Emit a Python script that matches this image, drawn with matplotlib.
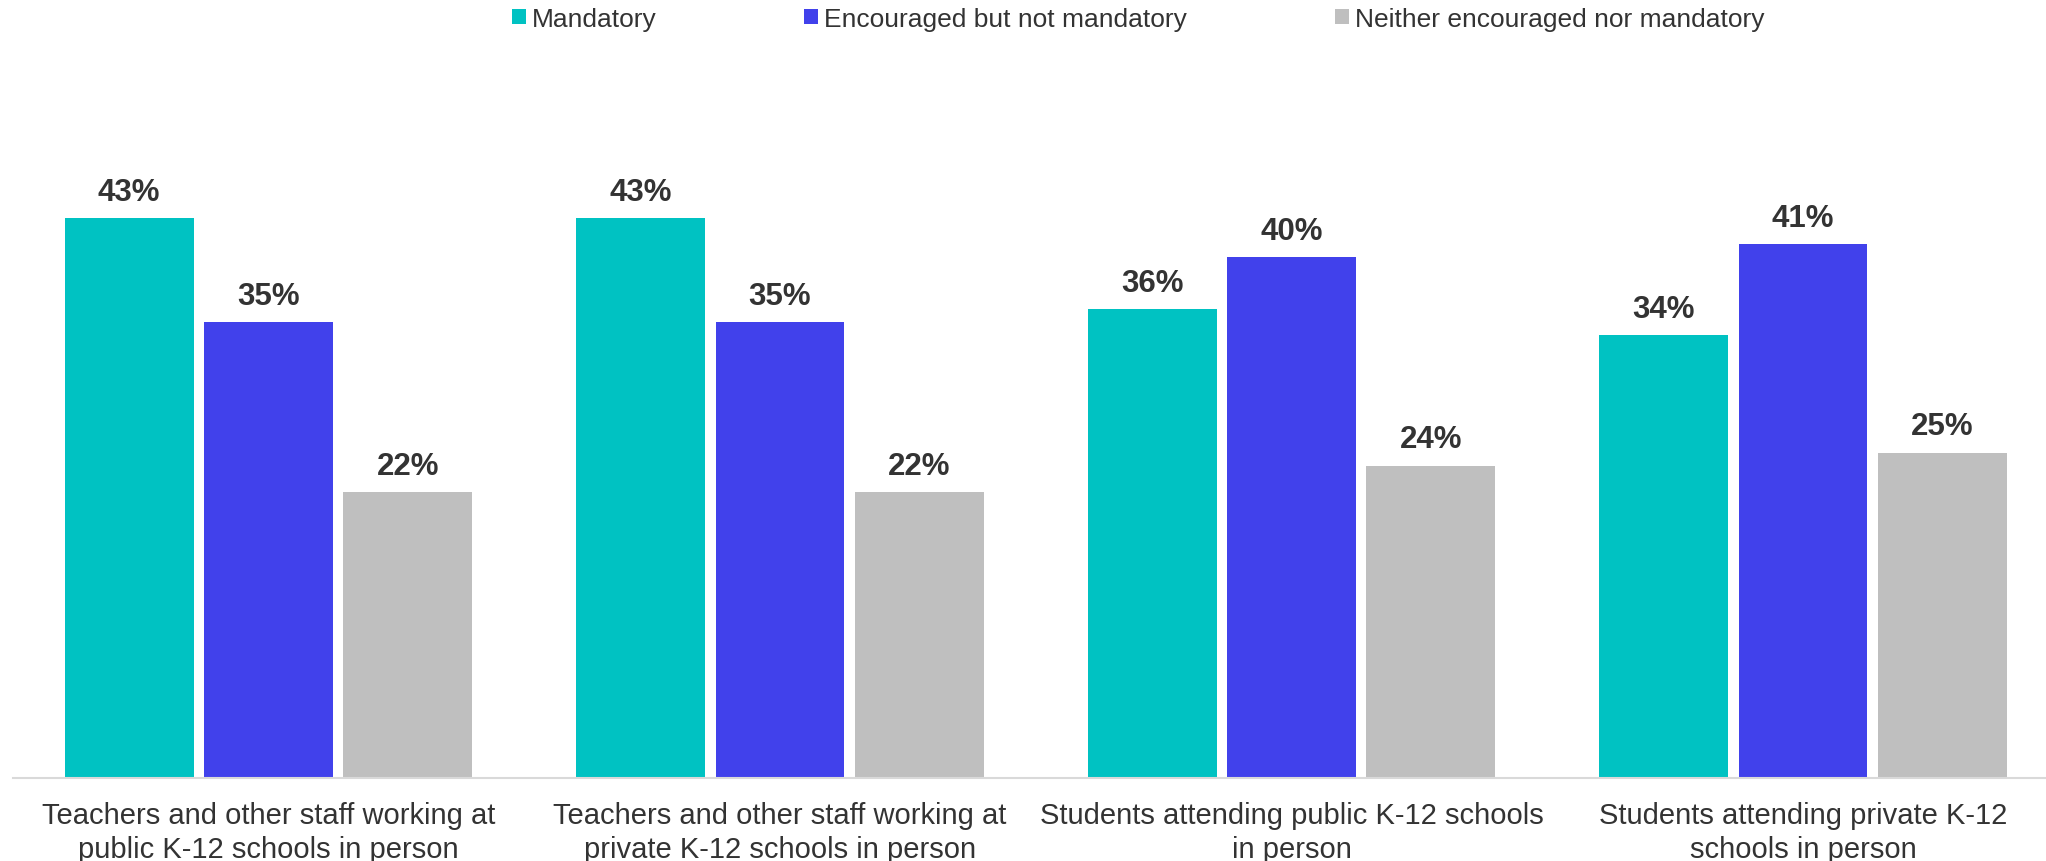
import matplotlib
matplotlib.use("Agg")
import matplotlib.pyplot as plt
from matplotlib.patches import Patch
import numpy as np

plt.rcParams['font.family'] = ['Liberation Sans', 'DejaVu Sans']

categories = [
    "Teachers and other staff working at\npublic K-12 schools in person",
    "Teachers and other staff working at\nprivate K-12 schools in person",
    "Students attending public K-12 schools\nin person",
    "Students attending private K-12\nschools in person",
]
series_names = ["Mandatory", "Encouraged but not mandatory", "Neither encouraged nor mandatory"]
mandatory = [43, 43, 36, 34]
encouraged = [35, 35, 40, 41]
neither = [22, 22, 24, 25]
colors = ["#00C2C2", "#4141EB", "#BFBFBF"]
text_color = "#333333"

W, H = 2046, 862
fig = plt.figure(figsize=(W / 100, H / 100), dpi=100)
# axes placed in pixels: left 12.75, baseline at y=779, 13 px per percent
ax_left, ax_bottom = 12.75, 83
ax_w, ax_h = W - ax_left, 651
ax = fig.add_axes([ax_left / W, ax_bottom / H, ax_w / W, ax_h / H])

step = 511.5  # px per group
x = np.arange(len(categories))
pitch = 139.3 / step
width = 128.7 / step

all_series = [mandatory, encouraged, neither]
for k, vals in enumerate(all_series):
    xs = x + (k - 1) * pitch
    ax.bar(xs, vals, width=width, color=colors[k], linewidth=0)
    for xi, v in zip(xs, vals):
        ax.annotate(f"{v}%", xy=(xi, v), xytext=(0, 13), textcoords="offset points",
                    ha="center", va="baseline", fontsize=22.5, fontweight="bold",
                    color=text_color)

ax.set_xlim(-0.5, -0.5 + ax_w / step)
ax.set_ylim(0, 50)

# category labels: last line baseline ~79 px under the axis
for i, lab in enumerate(categories):
    ax.annotate(lab, xy=(i, 0), xycoords=("data", "axes fraction"),
                xytext=(0, -57.1), textcoords="offset points",
                ha="center", va="baseline", multialignment="center",
                fontsize=21, color=text_color, linespacing=1.3,
                annotation_clip=False)

ax.set_xticks([])
ax.set_yticks([])
for s in ["top", "right", "left"]:
    ax.spines[s].set_visible(False)
ax.spines["bottom"].set_color("#D9D9D9")
ax.spines["bottom"].set_linewidth(1.5)

handles = [Patch(facecolor=c, edgecolor="none") for c in colors]
fig.legend(handles, series_names, loc="center left",
           bbox_to_anchor=(512 / W, 1 - 19.7 / H), ncol=3, frameon=False,
           fontsize=19, handlelength=0.53, handleheight=0.53,
           handletextpad=0.22, columnspacing=5.6, borderpad=0,
           borderaxespad=0, labelcolor=text_color)

fig.savefig("out.png", dpi=100)
